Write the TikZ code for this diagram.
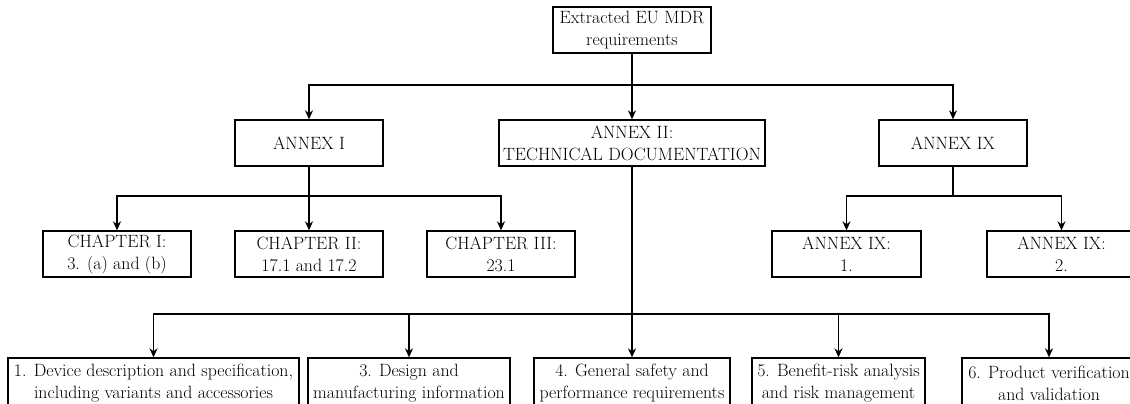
\documentclass[tikz,border=0pt]{standalone}
\usetikzlibrary{arrows.meta}
\begin{document}
\begin{tikzpicture}[x=1pt,y=-1pt,
  box/.style={draw, line width=1.3pt, align=center, inner sep=0pt,
    minimum height=46pt, font=\fontsize{17.8}{22}\selectfont},
  link/.style={line width=1.3pt},
  arr/.style={line width=1.3pt, -{Stealth[length=9pt,width=8pt]}}]
\useasboundingbox (0,0) rectangle (1130,404);

% top level
\node[box, minimum width=158pt] (top) at (632,30) {Extracted EU MDR\\requirements};

% annexes
\node[box, minimum width=148pt] (annI)  at (309,143) {ANNEX I};
\node[box, minimum width=266pt] (annII) at (632,143) {ANNEX II:\\TECHNICAL DOCUMENTATION};
\node[box, minimum width=148pt] (annIX) at (953,143) {ANNEX IX};

% Annex I chapters
\node[box, minimum width=148pt] (chI)   at (117,254) {CHAPTER I:\\3. (a) and (b)};
\node[box, minimum width=148pt] (chII)  at (309,254) {CHAPTER II:\\17.1 and 17.2};
\node[box, minimum width=148pt] (chIII) at (501,254) {CHAPTER III:\\23.1};

% Annex IX sections
\node[box, minimum width=149pt] (ixA) at (846.5,254) {ANNEX IX:\\1.};
\node[box, minimum width=149pt] (ixB) at (1061.5,254) {ANNEX IX:\\2.};

% Annex II sections (lower edge runs past the page)
\tikzset{secbox/.style={box, minimum height=50pt}}
\node[secbox, minimum width=291pt] (sec1) at (153.5,383) {1. Device description and specification,\\including variants and accessories};
\node[secbox, minimum width=202pt] (sec3) at (409,383) {3. Design and\\manufacturing information};
\node[secbox, minimum width=196pt] (sec4) at (632,383) {4. General safety and\\performance requirements};
\node[secbox, minimum width=173pt] (sec5) at (838.5,383) {5. Benefit-risk analysis\\and risk management};
\node[secbox, minimum width=174pt] (sec6) at (1049,383) {6. Product verification\\and validation};

% bus junctions
\coordinate (b0) at (632,85);
\coordinate (b1) at (309,196);
\coordinate (b2) at (953,196);
\coordinate (b3) at (632,314);

% top level to annexes
\draw[arr] (top.south) -- (annII.north);
\draw[arr] (b0) -| (annI.north);
\draw[arr] (b0) -| (annIX.north);

% Annex I to chapters
\draw[arr] (annI.south) -- (chII.north);
\draw[arr] (b1) -| (chI.north);
\draw[arr] (b1) -| (chIII.north);

% Annex IX to sections
\draw[link] (annIX.south) -- (b2);
\draw[arr] (b2) -| (ixA.north);
\draw[arr] (b2) -| (ixB.north);

% Annex II to sections
\draw[arr] (annII.south) -- (sec4.north);
\draw[arr] (b3) -| (sec1.north);
\draw[arr] (b3) -| (sec3.north);
\draw[arr] (b3) -| (sec5.north);
\draw[arr] (b3) -| (sec6.north);
\end{tikzpicture}
\end{document}
